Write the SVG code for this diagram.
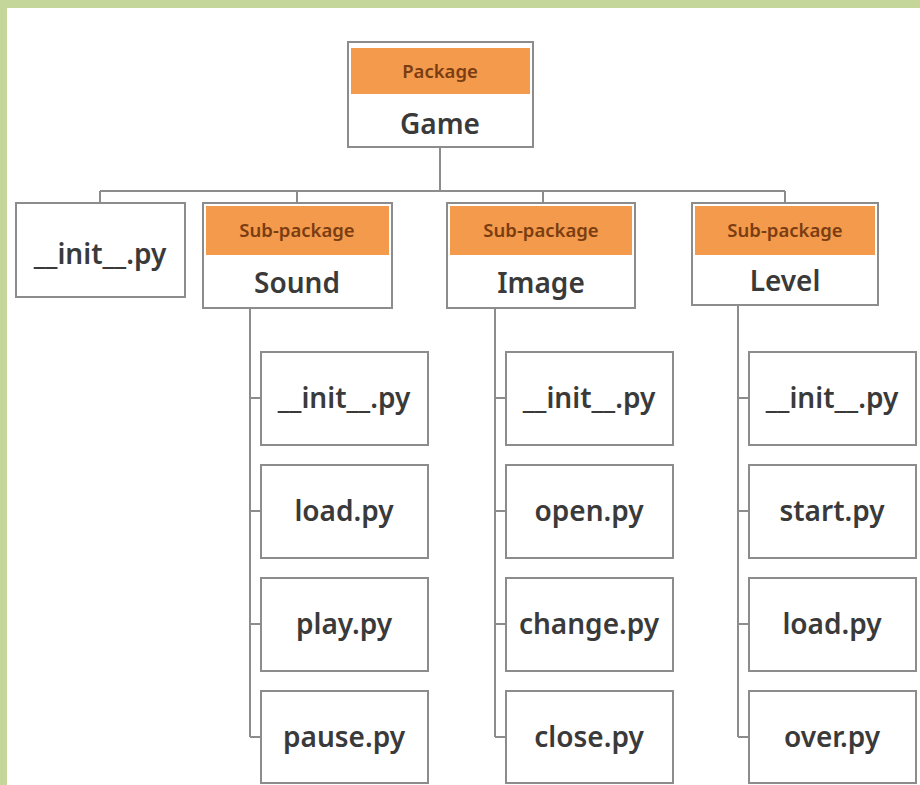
<svg xmlns="http://www.w3.org/2000/svg" width="920" height="785" viewBox="0 0 920 785">
<style>
.box{fill:#fff;stroke:#8c8c8c;stroke-width:2}
.band{fill:#f39a4c}
.lbl{font-family:"Noto Sans","Open Sans",sans-serif;font-weight:600;font-size:18.5px;fill:#7a3d12;text-anchor:middle}
.ttl{font-family:"Noto Sans","Open Sans",sans-serif;font-weight:600;font-size:28px;fill:#3a3a3a;text-anchor:middle}
.file{font-family:"Noto Sans","Open Sans",sans-serif;font-weight:600;font-size:28px;fill:#3a3a3a;text-anchor:middle}
.ln{fill:none;stroke:#8c8c8c;stroke-width:2}
</style>
<rect width="920" height="785" fill="#fff"/>
<rect width="920" height="8" fill="#c5d69b"/>
<rect width="7" height="785" fill="#c5d69b"/>
<g id="connectors">
<path class="ln" d="M440 147V191M100 191H785M100 191V203M297 191V203M543 191V203M785 191V203"/>
<path class="ln" d="M250 308V737M250 398H261M250 511H261M250 624H261M250 737H261"/>
<path class="ln" d="M495 308V737M495 398H506M495 511H506M495 624H506M495 737H506"/>
<path class="ln" d="M738 305V737M738 398H749M738 511H749M738 624H749M738 737H749"/>
</g>
<g id="game"><rect class="box" x="348" y="42" width="185" height="105"/><rect class="band" x="351" y="48" width="179" height="46"/><text class="lbl" x="440" y="78">Package</text><text class="ttl" x="440" y="134">Game</text></g>
<g id="init_root"><rect class="box" x="16" y="203" width="169" height="94"/><text class="file" x="100" y="264">__init__.py</text></g>
<g id="sound"><rect class="box" x="203" y="203" width="189" height="105"/><rect class="band" x="206" y="206" width="183" height="49"/><text class="lbl" x="297" y="237">Sub-package</text><text class="ttl" x="297" y="293">Sound</text></g>
<g id="image"><rect class="box" x="447" y="203" width="188" height="105"/><rect class="band" x="450" y="206" width="182" height="49"/><text class="lbl" x="541" y="237">Sub-package</text><text class="ttl" x="541" y="293">Image</text></g>
<g id="level"><rect class="box" x="692" y="203" width="186" height="102"/><rect class="band" x="695" y="206" width="180" height="49"/><text class="lbl" x="785" y="237">Sub-package</text><text class="ttl" x="785" y="291">Level</text></g>
<g id="sound_init"><rect class="box" x="261" y="352" width="167" height="93"/><text class="file" x="344" y="408">__init__.py</text></g>
<g id="sound_load"><rect class="box" x="261" y="465" width="167" height="93"/><text class="file" x="344" y="521">load.py</text></g>
<g id="sound_play"><rect class="box" x="261" y="578" width="167" height="93"/><text class="file" x="344" y="634">play.py</text></g>
<g id="sound_pause"><rect class="box" x="261" y="691" width="167" height="92"/><text class="file" x="344" y="747">pause.py</text></g>
<g id="image_init"><rect class="box" x="506" y="352" width="167" height="93"/><text class="file" x="589" y="408">__init__.py</text></g>
<g id="image_open"><rect class="box" x="506" y="465" width="167" height="93"/><text class="file" x="589" y="521">open.py</text></g>
<g id="image_change"><rect class="box" x="506" y="578" width="167" height="93"/><text class="file" x="589" y="634">change.py</text></g>
<g id="image_close"><rect class="box" x="506" y="691" width="167" height="92"/><text class="file" x="589" y="747">close.py</text></g>
<g id="level_init"><rect class="box" x="749" y="352" width="167" height="93"/><text class="file" x="832" y="408">__init__.py</text></g>
<g id="level_start"><rect class="box" x="749" y="465" width="167" height="93"/><text class="file" x="832" y="521">start.py</text></g>
<g id="level_load"><rect class="box" x="749" y="578" width="167" height="93"/><text class="file" x="832" y="634">load.py</text></g>
<g id="level_over"><rect class="box" x="749" y="691" width="167" height="92"/><text class="file" x="832" y="747">over.py</text></g>
</svg>
